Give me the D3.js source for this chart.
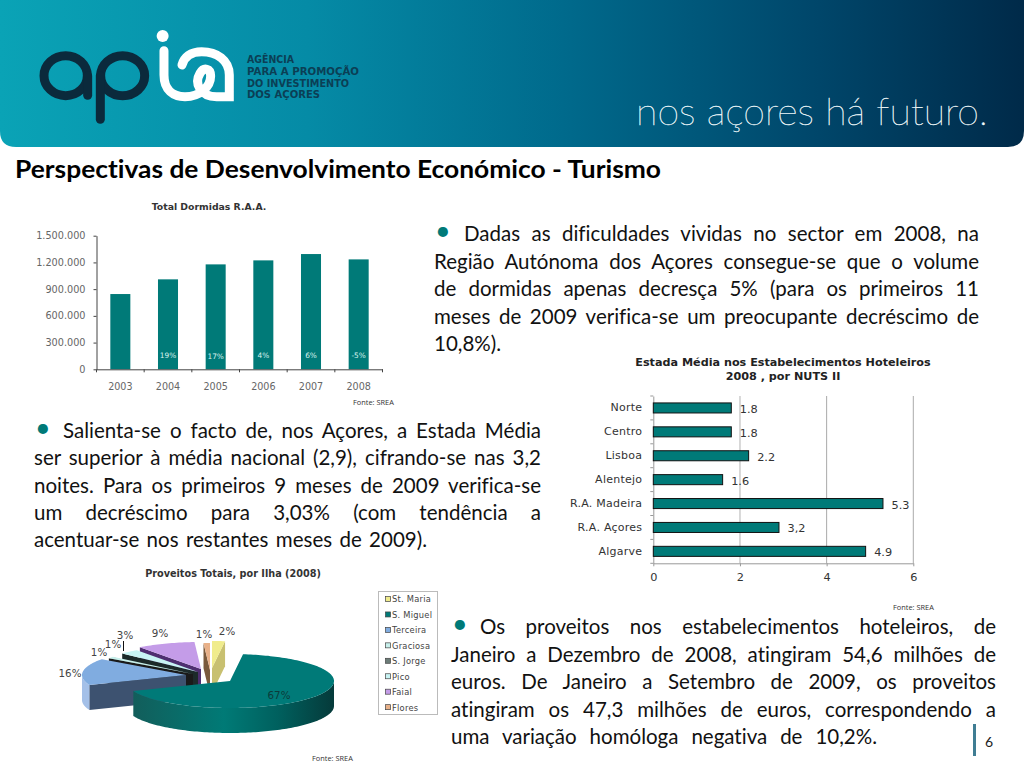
<!DOCTYPE html>
<html lang="pt">
<head>
<meta charset="utf-8">
<title>Perspectivas de Desenvolvimento Económico - Turismo</title>
<script src="https://cdn.jsdelivr.net/npm/d3@7"></script>
<style>
  html, body { margin: 0; padding: 0; background: #fff; overflow: hidden; }
  svg { display: block; }
  .body-text { font-family: Lato, "Open Sans", sans-serif; font-size: 20.5px; fill: #111; font-variant-ligatures: none; }
  .chart-text { font-family: "DejaVu Sans", sans-serif; }
  .source { font-family: "Open Sans", sans-serif; font-size: 7.4px; fill: #333; }
</style>
</head>
<body>
<svg id="slide" width="1024" height="768"></svg>
<script>
(function () {
  'use strict';

  // ── Data ───────────────────────────────────────────────
  var dormidasYears = ['2003', '2004', '2005', '2006', '2007', '2008'];
  var dormidasValues = [845000, 1010000, 1178000, 1223000, 1294000, 1234000];
  var dormidasGrowth = ['', '19%', '17%', '4%', '6%', '-5%'];
  var dormidasTicks = [0, 300000, 600000, 900000, 1200000, 1500000];

  var estadaRegions = ['Norte', 'Centro', 'Lisboa', 'Alentejo', 'R.A. Madeira', 'R.A. Açores', 'Algarve'];
  var estadaValues = [1.8, 1.8, 2.2, 1.6, 5.3, 2.9, 4.9];
  var estadaLabels = ['1.8', '1.8', '2.2', '1.6', '5.3', '3,2', '4.9'];
  var estadaTicks = [0, 2, 4, 6];

  var ilhas = ['St. Maria', 'S. Miguel', 'Terceira', 'Graciosa', 'S. Jorge', 'Pico', 'Faial', 'Flores'];
  var proveitos = [2, 67, 16, 1, 1, 3, 9, 1];

  var para1 = [
    'Dadas as dificuldades vividas no sector em 2008, na',
    'Região Autónoma dos Açores consegue-se que o volume',
    'de dormidas apenas decresça 5% (para os primeiros 11',
    'meses de 2009 verifica-se um preocupante decréscimo de',
    '10,8%).'
  ];
  var para2 = [
    'Salienta-se o facto de, nos Açores, a Estada Média',
    'ser superior à média nacional (2,9), cifrando-se nas 3,2',
    'noites. Para os primeiros 9 meses de 2009 verifica-se',
    'um decréscimo para 3,03% (com tendência a',
    'acentuar-se nos restantes meses de 2009).'
  ];
  var para3 = [
    'Os proveitos nos estabelecimentos hoteleiros, de',
    'Janeiro a Dezembro de 2008, atingiram 54,6 milhões de',
    'euros. De Janeiro a Setembro de 2009, os proveitos',
    'atingiram os 47,3 milhões de euros, correspondendo a',
    'uma variação homóloga negativa de 10,2%.'
  ];

  var svg = d3.select('#slide');
  var defs = svg.append('defs');
  var TEAL = '#007a78';

  // ── Header band ────────────────────────────────────────
  var headGrad = defs.append('linearGradient').attr('id', 'head-grad');
  [[0, '#0aa3b6'], [0.3, '#058ba6'], [0.55, '#006a8c'], [0.8, '#00466a'], [1, '#002a49']].forEach(function (s) {
    headGrad.append('stop').attr('offset', s[0]).attr('stop-color', s[1]);
  });
  svg.append('path')
    .attr('d', 'M0,0 H1024 V131 Q1024,147 1008,147 H16 Q0,147 0,131 Z')
    .attr('fill', 'url(#head-grad)');

  // logo, drawn in the coordinates of a 3x crop
  var logo = svg.append('g')
    .attr('transform', 'translate(20,20) scale(0.3333)')
    .attr('fill', 'none')
    .attr('stroke-linecap', 'round')
    .attr('stroke-width', 27);
  logo.append('ellipse').attr('cx', 137).attr('cy', 167).attr('rx', 65).attr('ry', 60).attr('stroke', '#0b2a3c');
  logo.append('line').attr('x1', 203).attr('y1', 167).attr('x2', 203).attr('y2', 226).attr('stroke', '#0b2a3c');
  logo.append('ellipse').attr('cx', 308).attr('cy', 167).attr('rx', 66).attr('ry', 60).attr('stroke', '#0b2a3c');
  logo.append('line').attr('x1', 241).attr('y1', 167).attr('x2', 241).attr('y2', 298).attr('stroke', '#0b2a3c');
  logo.append('circle').attr('cx', 428).attr('cy', 48).attr('r', 18).attr('fill', '#fff').attr('stroke', 'none');
  logo.append('path')
    .attr('d', 'M432,92 V165 C432,210 460,230 495,230 C540,230 572,200 572,168 C572,145 552,140 540,160 C522,190 540,230 590,230 H628 V165 C628,120 590,95 545,95 C512,95 492,112 486,135')
    .attr('stroke', '#fff');

  var logoText = svg.append('g')
    .attr('font-family', '"DejaVu Sans", sans-serif')
    .attr('font-weight', 'bold')
    .attr('font-size', 10)
    .attr('fill', '#0b3f55');
  [['AGÊNCIA', 63, 47], ['PARA A PROMOÇÃO', 75, 112], ['DO INVESTIMENTO', 87, 102], ['DOS AÇORES', 98, 73]].forEach(function (d) {
    logoText.append('text').attr('x', 247).attr('y', d[1]).attr('textLength', d[2]).attr('lengthAdjust', 'spacingAndGlyphs').text(d[0]);
  });

  svg.append('text')
    .attr('x', 636).attr('y', 125)
    .attr('font-family', 'Lato, Roboto, sans-serif')
    .attr('font-weight', 100)
    .attr('font-size', 38)
    .attr('fill', '#f2fafb')
    .attr('stroke', '#f2fafb')
    .attr('stroke-width', 0.35)
    .attr('textLength', 352)
    .attr('lengthAdjust', 'spacingAndGlyphs')
    .text('nos açores há futuro.');

  svg.append('text')
    .attr('x', 15).attr('y', 178)
    .attr('font-family', 'Lato, sans-serif')
    .attr('font-weight', 'bold')
    .attr('font-size', 25)
    .attr('fill', '#000')
    .attr('textLength', 646)
    .attr('lengthAdjust', 'spacingAndGlyphs')
    .style('font-variant-ligatures', 'none')
    .text('Perspectivas de Desenvolvimento Económico - Turismo');

  // ── Justified paragraphs ───────────────────────────────
  function paragraph(lines, left, right, lastRight, firstBaseline, lineStep, indent) {
    var g = svg.append('g').attr('class', 'body-text');
    lines.forEach(function (line, i) {
      var x = i === 0 ? left + indent : left;
      var end = i === lines.length - 1 ? lastRight : right;
      var t = g.append('text').attr('x', x).attr('y', firstBaseline + lineStep * i).text(line);
      var gaps = line.split(' ').length - 1;
      if (gaps > 0) {
        t.attr('word-spacing', (end - x - t.node().getComputedTextLength()) / gaps);
      }
    });
    g.append('text')
      .attr('x', left + 1).attr('y', firstBaseline - 1)
      .attr('font-size', 27).attr('fill', TEAL)
      .text('•');
  }
  paragraph(para1, 434, 979, 497, 241, 27.5, 30);
  paragraph(para2, 34, 541, 427, 438, 27.3, 29);
  paragraph(para3, 451, 996, 877, 634, 27.5, 29);

  // ── Total Dormidas ─────────────────────────────────────
  var dorm = svg.append('g').attr('class', 'chart-text');
  var dormX = d3.scaleBand().domain(dormidasYears).range([96.5, 382.5]).paddingInner(0.58).paddingOuter(0.29);
  var dormY = d3.scaleLinear().domain([0, 1500000]).range([369.3, 235.7]);

  dorm.append('text')
    .attr('x', 209).attr('y', 210)
    .attr('text-anchor', 'middle')
    .attr('font-size', 9.3).attr('font-weight', 'bold').attr('fill', '#333')
    .text('Total Dormidas R.A.A.');

  dorm.selectAll('rect')
    .data(dormidasYears)
    .enter().append('rect')
    .attr('x', function (d) { return dormX(d); })
    .attr('width', dormX.bandwidth())
    .attr('y', function (d, i) { return dormY(dormidasValues[i]); })
    .attr('height', function (d, i) { return dormY(0) - dormY(dormidasValues[i]); })
    .attr('fill', TEAL);

  var dormYAxis = d3.axisLeft(dormY)
    .tickValues(dormidasTicks)
    .tickSize(3)
    .tickSizeOuter(0)
    .tickPadding(8)
    .tickFormat(function (d) { return d3.format(',')(d).replace(/,/g, '.'); });
  var gy = dorm.append('g').attr('transform', 'translate(96.5,0)').call(dormYAxis);
  gy.selectAll('text').attr('font-family', '"DejaVu Sans", sans-serif').attr('font-size', 9.7).attr('fill', '#666');

  var dormXAxis = d3.axisBottom(dormX).tickSize(0).tickPadding(14);
  var gx = dorm.append('g').attr('transform', 'translate(0,369.3)').call(dormXAxis);
  gx.selectAll('text').attr('font-family', '"DejaVu Sans", sans-serif').attr('font-size', 9.6).attr('fill', '#666');
  dorm.append('g').selectAll('line')
    .data(d3.range(dormidasYears.length + 1))
    .enter().append('line')
    .attr('x1', function (i) { return 96.5 + i * dormX.step(); })
    .attr('x2', function (i) { return 96.5 + i * dormX.step(); })
    .attr('y1', dormY(0)).attr('y2', dormY(0) + 3)
    .attr('stroke', '#444');
  [gy, gx].forEach(function (a) {
    a.selectAll('.domain, .tick line').attr('stroke', '#444');
  });

  dorm.append('g').selectAll('text')
    .data(dormidasYears)
    .enter().append('text')
    .attr('x', function (d) { return dormX(d) + dormX.bandwidth() / 2; })
    .attr('y', function (d, i) { return i === 2 ? 359 : 358; })
    .attr('text-anchor', 'middle')
    .attr('font-size', 7.4).attr('fill', '#d8f2ee')
    .text(function (d, i) { return dormidasGrowth[i]; });

  svg.append('text').attr('class', 'source').attr('x', 353).attr('y', 405).text('Fonte: SREA');

  // ── Estada Média ───────────────────────────────────────
  var est = svg.append('g').attr('class', 'chart-text');
  var estX = d3.scaleLinear().domain([0, 6]).range([653.3, 913.3]);
  var estY = d3.scaleBand().domain(estadaRegions).range([396, 563.3]).paddingInner(0.58).paddingOuter(0.29);

  est.append('text')
    .attr('x', 783).attr('y', 366)
    .attr('text-anchor', 'middle')
    .attr('font-size', 11.2).attr('font-weight', 'bold').attr('fill', '#222')
    .text('Estada Média nos Estabelecimentos Hoteleiros');
  est.append('text')
    .attr('x', 783).attr('y', 380)
    .attr('text-anchor', 'middle')
    .attr('font-size', 11.2).attr('font-weight', 'bold').attr('fill', '#222')
    .text('2008 , por NUTS II');

  est.append('g').selectAll('line')
    .data(estadaTicks.slice(1))
    .enter().append('line')
    .attr('x1', function (d) { return estX(d); })
    .attr('x2', function (d) { return estX(d); })
    .attr('y1', 396).attr('y2', 563.3)
    .attr('stroke', function (d) { return d === 2 ? '#ccc' : '#aaa'; })
    .attr('stroke-width', function (d) { return d === 2 ? 1.5 : 1; });

  var estXAxis = d3.axisBottom(estX)
    .tickValues(estadaTicks)
    .tickSize(3)
    .tickSizeOuter(0)
    .tickPadding(7)
    .tickFormat(d3.format('d'));
  var gex = est.append('g').attr('transform', 'translate(0,563.3)').call(estXAxis);
  gex.selectAll('text').attr('font-family', '"DejaVu Sans", sans-serif').attr('font-size', 11.3).attr('fill', '#333');
  gex.selectAll('.domain, .tick line').attr('stroke', '#999');

  var estYAxis = d3.axisLeft(estY).tickSize(0).tickPadding(11);
  var gey = est.append('g').attr('transform', 'translate(653.3,0)').call(estYAxis);
  gey.selectAll('text').attr('font-family', '"DejaVu Sans", sans-serif').attr('font-size', 11).attr('letter-spacing', 0.25).attr('fill', '#333');
  gey.selectAll('.domain').attr('stroke', '#999');
  est.append('g').selectAll('line')
    .data(d3.range(estadaRegions.length + 1))
    .enter().append('line')
    .attr('x1', 650.3).attr('x2', 653.3)
    .attr('y1', function (i) { return 396 + i * estY.step(); })
    .attr('y2', function (i) { return 396 + i * estY.step(); })
    .attr('stroke', '#999');

  est.append('g').selectAll('rect')
    .data(estadaRegions)
    .enter().append('rect')
    .attr('x', estX(0))
    .attr('y', function (d) { return estY(d); })
    .attr('width', function (d, i) { return estX(estadaValues[i]) - estX(0); })
    .attr('height', estY.bandwidth())
    .attr('fill', TEAL)
    .attr('stroke', '#111');

  est.append('g').selectAll('text')
    .data(estadaRegions)
    .enter().append('text')
    .attr('x', function (d, i) { return estX(estadaValues[i]) + 8.5; })
    .attr('y', function (d) { return estY(d) + estY.bandwidth() / 2 + 5; })
    .attr('font-size', 11.3).attr('fill', '#333')
    .text(function (d, i) { return estadaLabels[i]; });

  svg.append('text').attr('class', 'source').attr('x', 893).attr('y', 610).text('Fonte: SREA');

  // ── Proveitos pie ──────────────────────────────────────
  var PIE_CX = 230, PIE_CY = 681, RX = 104, RY = 27, DEPTH = 25;
  var sliceTop = ['#f0ec8c', TEAL, '#80ace0', '#c8f0ec', '#6c7c78', '#c8f4f4', '#c49ce8', '#e8b088'];
  var sliceCut = ['#c8c070', '#004f4e', '#3d5270', '#1a1a1a', '#66706e', '#1c2a2a', '#4e2e70', '#7a5a3c'];
  var sliceWall = ['#c8c070', 'url(#miguel-wall)', '#a4c0e8', '#1a1a1a', '#3c4846', '#8fb8b8', '#4e2e70', '#7a5a3c'];
  var sliceShift = [[-18, -13], [0, 0], [-44, -6], [-37, -7], [-40, -5], [-32, -9], [-29, -12], [-20, -11]];
  var drawOrder = [6, 5, 4, 3, 7, 0, 2, 1];

  var wallGrad = defs.append('linearGradient')
    .attr('id', 'miguel-wall')
    .attr('gradientUnits', 'userSpaceOnUse')
    .attr('x1', 134).attr('x2', 334).attr('y1', 0).attr('y2', 0);
  [[0, '#125e5b'], [0.45, '#007a76'], [0.72, '#00605e'], [1, '#053a3a']].forEach(function (s) {
    wallGrad.append('stop').attr('offset', s[0]).attr('stop-color', s[1]);
  });

  var pieArcs = d3.pie().sort(null)(proveitos);
  var path = d3.line();

  function rimPoints(a0, a1, cx, cy, dy) {
    var n = Math.max(2, Math.ceil((a1 - a0) * 40));
    return d3.range(n + 1).map(function (i) {
      var a = a0 + (a1 - a0) * i / n;
      return [cx + RX * Math.sin(a), cy - RY * Math.cos(a) + dy];
    });
  }

  var pie = svg.append('g');
  drawOrder.forEach(function (k) {
    var arc = pieArcs[k];
    var cx = PIE_CX + sliceShift[k][0];
    var cy = PIE_CY + sliceShift[k][1];
    var s = pie.append('g');

    // cut faces that turn toward the viewer
    [arc.startAngle, arc.endAngle].forEach(function (a, j) {
      var sin = Math.sin(a);
      if ((j === 0 && sin < -1e-6) || (j === 1 && sin > 1e-6)) {
        var ex = cx + RX * sin, ey = cy - RY * Math.cos(a);
        s.append('path')
          .attr('d', path([[cx, cy], [ex, ey], [ex, ey + DEPTH], [cx, cy + DEPTH]]) + 'Z')
          .attr('fill', sliceCut[k]);
      }
    });

    // outer wall, front half only
    var w0 = Math.max(arc.startAngle, Math.PI / 2);
    var w1 = Math.min(arc.endAngle, Math.PI * 1.5);
    if (w1 > w0) {
      var upper = rimPoints(w0, w1, cx, cy, 0);
      var lower = rimPoints(w0, w1, cx, cy, DEPTH).reverse();
      s.append('path').attr('d', path(upper.concat(lower)) + 'Z').attr('fill', sliceWall[k]);
    }

    // top face
    s.append('path')
      .attr('d', path([[cx, cy]].concat(rimPoints(arc.startAngle, arc.endAngle, cx, cy, 0))) + 'Z')
      .attr('fill', sliceTop[k]);
  });

  var pieText = svg.append('g').attr('class', 'chart-text');
  pieText.append('text')
    .attr('x', 233).attr('y', 577)
    .attr('text-anchor', 'middle')
    .attr('font-size', 9.7).attr('font-weight', 'bold').attr('fill', '#333')
    .text('Proveitos Totais, por Ilha (2008)');

  // leader line of the 3% label
  pieText.append('line')
    .attr('x1', 123.5).attr('x2', 123.5).attr('y1', 641).attr('y2', 651)
    .attr('stroke', '#111').attr('stroke-width', 1);

  var labelSpots = [[227, 631], [279, 695], [70, 673], [99, 652], [113, 644], [125, 635], [160, 633], [204, 634]];
  pieText.append('g').selectAll('text')
    .data(proveitos)
    .enter().append('text')
    .attr('x', function (d, i) { return labelSpots[i][0]; })
    .attr('y', function (d, i) { return labelSpots[i][1] + 3.5; })
    .attr('text-anchor', 'middle')
    .attr('font-size', 10.3)
    .attr('fill', function (d, i) { return i === 1 ? '#0c3a3a' : '#444'; })
    .text(function (d) { return d + '%'; });

  // legend
  var legend = pieText.append('g');
  legend.append('rect')
    .attr('x', 378.5).attr('y', 591.5).attr('width', 59).attr('height', 123)
    .attr('fill', '#fff').attr('stroke', '#bbb');
  var legendItem = legend.selectAll('g.item')
    .data(ilhas)
    .enter().append('g')
    .attr('class', 'item')
    .attr('transform', function (d, i) { return 'translate(385,' + (599 + i * 15.45) + ')'; });
  legendItem.append('rect')
    .attr('x', 0.5).attr('y', -2.5).attr('width', 5).attr('height', 5)
    .attr('fill', function (d, i) { return sliceTop[i]; })
    .attr('stroke', '#444').attr('stroke-width', 0.7);
  legendItem.append('text')
    .attr('x', 7).attr('y', 3.4)
    .attr('font-size', 8.3).attr('letter-spacing', 0.25).attr('fill', '#444')
    .text(function (d) { return d; });

  svg.append('text').attr('class', 'source').attr('x', 312).attr('y', 761).text('Fonte: SREA');

  // ── Page number ────────────────────────────────────────
  svg.append('rect').attr('x', 973).attr('y', 724).attr('width', 3).attr('height', 32).attr('fill', '#3f7d93');
  svg.append('text')
    .attr('x', 985).attr('y', 747)
    .attr('font-family', 'Lato, sans-serif').attr('font-size', 14).attr('fill', '#222')
    .text('6');
})();
</script>
</body>
</html>
